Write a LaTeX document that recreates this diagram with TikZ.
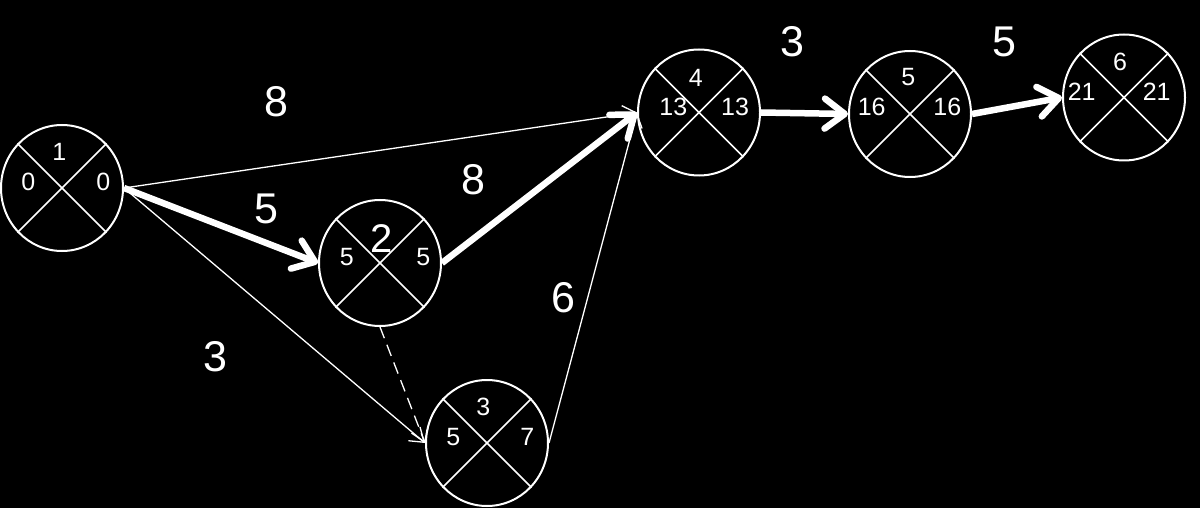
\documentclass[tikz,border=0pt]{standalone}
\usepackage{fontspec}
\setmainfont{Liberation Sans}
\usetikzlibrary{shapes.geometric,arrows.meta}
\begin{document}
\begin{tikzpicture}[x=1pt,y=-1pt,
  evt/.style={draw=white,line width=2pt,ellipse,minimum width=122pt,minimum height=126pt,inner sep=0pt},
  num/.style={text=white,font=\fontsize{25}{25}\selectfont,inner sep=0pt},
  big/.style={text=white,font=\fontsize{43}{43}\selectfont,inner sep=0pt},
  cross/.style={draw=white,line width=1.5pt},
  crit/.style={draw=white,line width=6.5pt,-{Straight Barb[length=20pt,width=30pt,line cap=round,line join=round]}},
  thinarr/.style={draw=white,line width=1.3pt,-{Straight Barb[length=13pt,width=18pt]}},
  dum/.style={thinarr,dash pattern=on 12pt off 7pt}
]
\fill[black] (0,0) rectangle (1200,508);
\useasboundingbox (0,0) rectangle (1200,508);

% events
\node[evt] (n1) at (62,188) {};
\node[evt] (n2) at (380,263) {};
\node[evt] (n3) at (487,443) {};
\node[evt] (n4) at (699,112.5) {};
\node[evt] (n5) at (910,114) {};
\node[evt] (n6) at (1124,97.5) {};

\foreach \n in {n1,n2,n3,n4,n5,n6}{
  \draw[cross] (\n.45) -- (\n.225) (\n.135) -- (\n.315);
}

% event labels
\node[num] (t1) at (59.3,151.7) {1};
\node[num] (a1) at (28.3,181.7) {0};
\node[num] (b1) at (103.3,181.7) {0};

\node[text=white,font=\fontsize{40}{40}\selectfont,inner sep=0pt] (t2) at (381.7,238.3) {2};
\node[num] (a2) at (346.7,256.7) {5};
\node[num] (b2) at (423.3,256.7) {5};

\node[num] (t3) at (483.3,406.7) {3};
\node[num] (a3) at (453.3,436.7) {5};
\node[num] (b3) at (527.3,436.7) {7};

\node[num] (t4) at (695.7,78.3) {4};
\node[num] (a4) at (673.3,106.7) {13};
\node[num] (b4) at (735,106.7) {13};

\node[num] (t5) at (908.3,76.7) {5};
\node[num] (a5) at (871.7,106.7) {16};
\node[num] (b5) at (947.3,106.7) {16};

\node[num] (t6) at (1120,61.7) {6};
\node[num] (a6) at (1081.7,91.7) {21};
\node[num] (b6) at (1156.7,91.7) {21};

% activities
\draw[thinarr] (n1.east) -- (n4.west);
\draw[crit] (n1.east) -- (n2.west);
\draw[thinarr] (n1.east) -- (n3.west);
\draw[crit] (n2.east) -- (n4.west);
\draw[thinarr] (n3.east) -- (n4.west);
\draw[dum] (n2.south) -- (n3.west);
\draw[crit] (n4.east) -- (n5.west);
\draw[crit] (n5.east) -- (n6.west);

% durations
\node[big] (d14) at (276,102) {8};
\node[big] (d12) at (266,209) {5};
\node[big] (d24) at (473,180) {8};
\node[big] (d13) at (215,357) {3};
\node[big] (d34) at (563,298) {6};
\node[big] (d45) at (792,42) {3};
\node[big] (d56) at (1004,42) {5};
\end{tikzpicture}
\end{document}
